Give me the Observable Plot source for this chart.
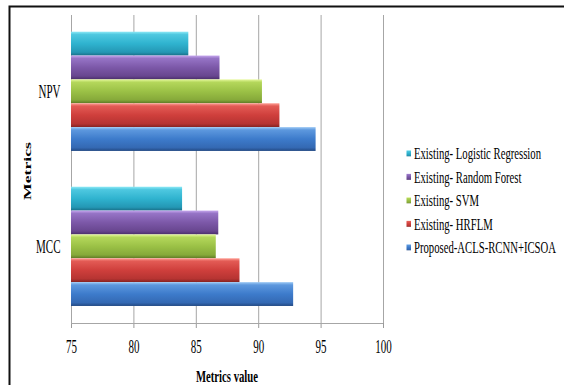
<!DOCTYPE html>
<html>
<head>
<meta charset="utf-8">
<script src="https://cdn.jsdelivr.net/npm/d3@7"></script>
<script src="https://cdn.jsdelivr.net/npm/@observablehq/plot@0.6"></script>
<style>
  body { margin: 0; background: #fff; }
  #chart { position: relative; width: 564px; height: 385px; overflow: hidden; background: #fff; }
</style>
</head>
<body>
<div id="chart"></div>
<script>
// Metrics shown on the vertical axis, top to bottom
const metrics = ["NPV", "MCC"];
// Compared methods, drawn top to bottom inside each metric group
const methods = [
  "Existing- Logistic Regression",
  "Existing- Random Forest",
  "Existing- SVM",
  "Existing- HRFLM",
  "Proposed-ACLS-RCNN+ICSOA"
];
// Values per metric, in the order of `methods`
const npvValues = [84.4, 86.9, 90.3, 91.7, 94.6];
const mccValues = [83.9, 86.8, 86.6, 88.5, 92.8];
// Horizontal axis ticks
const xTicks = [75, 80, 85, 90, 95, 100];

// Bevel-like shading for each series: light top edge, body, dark bottom edge
const barShades = [
  ["#8de9f6", "#4ec8e0", "#2fb3cf", "#2497b4", "#186f88"],
  ["#c6a7ee", "#9674c6", "#7c58a8", "#68468f", "#4a2e6a"],
  ["#e6f89c", "#b4d75b", "#9bc146", "#86a93a", "#5e7925"],
  ["#ffa197", "#e35b55", "#cf3f3c", "#b63432", "#852321"],
  ["#9ecaf5", "#5d98de", "#3d7bcb", "#3469b3", "#234a84"]
];

const SERIF = "'Liberation Serif', 'Times New Roman', serif";
const STRETCH = 1.65;          // tall, narrow lettering
const GROUP_OFFSET = 0.70;     // space above the first group, in bar heights
const GROUP_STEP = 6.50;       // distance between groups, in bar heights
const Y_EXTENT = 12.914;       // frame height, in bar heights

const valuesByMetric = { NPV: npvValues, MCC: mccValues };
const rows = [];
metrics.forEach((metric, g) => {
  methods.forEach((method, i) => {
    rows.push({
      metric, method, series: i,
      value: valuesByMetric[metric][i],
      slot: GROUP_OFFSET + g * GROUP_STEP + i
    });
  });
});

const groupCenters = new Map(metrics.map((m, g) => [GROUP_OFFSET + g * GROUP_STEP + methods.length / 2, m]));

const svg = Plot.plot({
  width: 564,
  height: 385,
  marginLeft: 71,
  marginRight: 181,
  marginTop: 15,
  marginBottom: 62,
  style: { fontFamily: SERIF, fontSize: "11px", background: "transparent", color: "#000" },
  x: { domain: [xTicks[0], xTicks[xTicks.length - 1]], ticks: xTicks, tickSize: 5, tickPadding: 14, label: null },
  y: {
    domain: [0, Y_EXTENT], reverse: true,
    ticks: [...groupCenters.keys()],
    tickFormat: d => groupCenters.get(d) ?? "",
    tickSize: 0, tickPadding: 11, label: null
  },
  marks: [
    Plot.ruleX(xTicks, { stroke: "#a6a6a6", strokeWidth: 1 }),
    Plot.ruleY([Y_EXTENT], { x1: xTicks[0], x2: xTicks[xTicks.length - 1], stroke: "#a6a6a6" }),
    ...methods.map((method, i) =>
      Plot.rect(rows.filter(r => r.series === i), {
        x1: xTicks[0],
        x2: "value",
        y1: "slot",
        y2: d => d.slot + 1,
        fill: `url(#bar-shade-${i})`
      })
    )
  ]
});

document.getElementById("chart").appendChild(svg);
const root = d3.select(svg);

// gradient definitions used by the bars and legend swatches
const defs = root.insert("defs", ":first-child");
barShades.forEach((shades, i) => {
  const grad = defs.append("linearGradient")
    .attr("id", `bar-shade-${i}`)
    .attr("x1", 0).attr("y1", 0).attr("x2", 0).attr("y2", 1);
  [0, 0.12, 0.5, 0.86, 1].forEach((o, k) => {
    grad.append("stop").attr("offset", o).attr("stop-color", shades[k]);
  });
});

// grey axis ticks
root.selectAll('g[aria-label^="x-axis"] line, g[aria-label^="x-axis"] path')
  .attr("stroke", "#9a9a9a");

// outer frame of the figure
root.append("path")
  .attr("d", "M9.5,385 V6.5 H564")
  .attr("fill", "none")
  .attr("stroke", "#111")
  .attr("stroke-width", 2);

// axis titles
root.append("text")
  .attr("class", "tall")
  .attr("x", 227).attr("y", 376)
  .attr("text-anchor", "middle")
  .attr("dominant-baseline", "central")
  .attr("font-weight", "bold")
  .attr("font-size", 10.7)
  .attr("font-family", SERIF)
  .text("Metrics value");

const yTitle = root.append("text")
  .attr("x", 27).attr("y", 171)
  .attr("text-anchor", "middle")
  .attr("dominant-baseline", "central")
  .attr("font-weight", "bold")
  .attr("font-size", 10.7)
  .attr("font-family", SERIF)
  .attr("transform", "rotate(-90,27,171)")
  .text("Metrics");

// legend
const legend = root.append("g")
  .attr("font-family", SERIF)
  .attr("font-size", 10.7)
  .attr("text-anchor", "start");
methods.forEach((method, i) => {
  const cy = 153.3 + i * 23.5;
  legend.append("rect")
    .attr("x", 406.5).attr("y", cy - 3)
    .attr("width", 4.5).attr("height", 6)
    .attr("fill", `url(#bar-shade-${i})`);
  legend.append("text")
    .attr("class", "tall")
    .attr("x", 414).attr("y", cy)
    .attr("text-anchor", "start")
    .attr("dominant-baseline", "central")
    .text(method);
});

// vertical stretch of the lettering about each label's own centre
function stretch(el, k) {
  const b = el.getBBox();
  let cy = b.y + b.height / 2;
  const t = el.transform && el.transform.baseVal.consolidate();
  if (t) {
    const m = t.matrix;
    cy = m.b * (b.x + b.width / 2) + m.d * cy + m.f;
  }
  const prev = el.getAttribute("transform") || "";
  el.setAttribute("transform", `translate(0,${cy}) scale(1,${k}) translate(0,${-cy}) ${prev}`);
}
root.selectAll('g[aria-label^="x-axis"] text, g[aria-label^="y-axis"] text, text.tall').each(function () { stretch(this, STRETCH); });
stretch(yTitle.node(), STRETCH);
</script>
</body>
</html>
